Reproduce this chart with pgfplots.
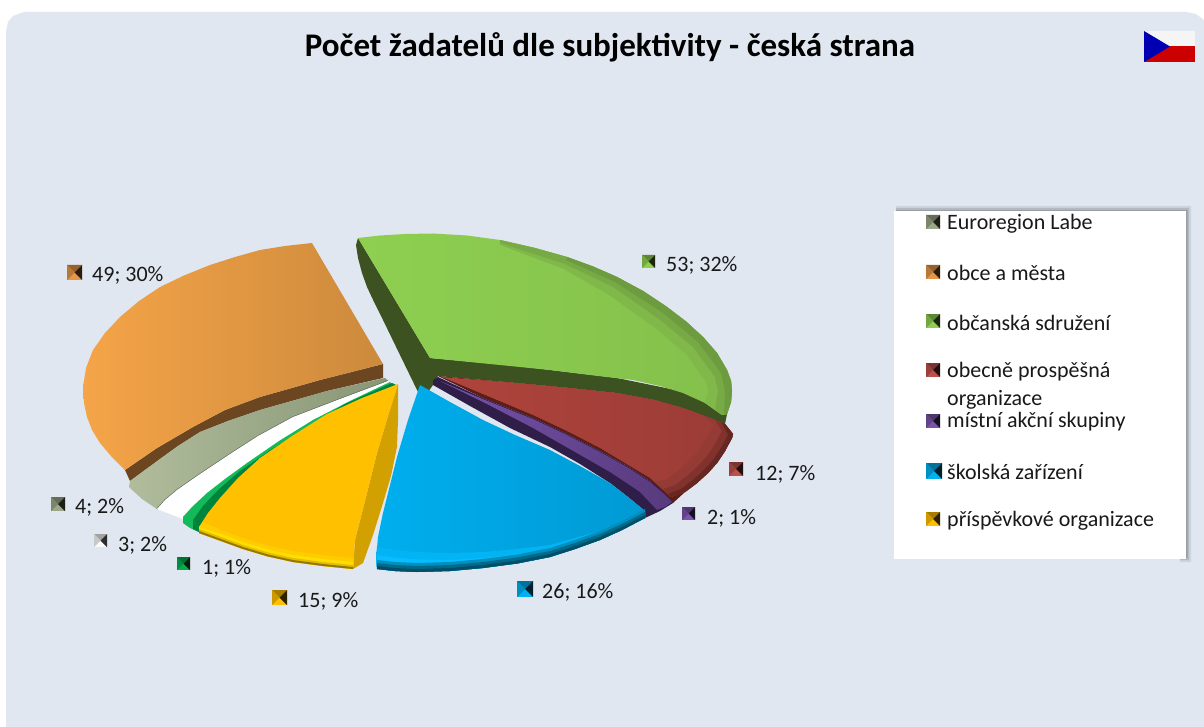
\documentclass[border=0pt]{standalone}
\usepackage{pgfplots}
\pgfplotsset{compat=1.18}
\usepackage{fontspec}
\setmainfont{Carlito}
\tikzset{lab/.style={anchor=west,inner sep=0pt,font=\fontsize{22}{26}\selectfont,text=black!90}}
\definecolor{bg}{HTML}{E0E7F0}
\definecolor{gside}{RGB}{61,82,33}
\definecolor{gtop}{RGB}{142,207,80}
\definecolor{gend}{RGB}{132,192,76}
\definecolor{oside}{RGB}{108,70,32}
\definecolor{olight}{RGB}{245,164,72}
\definecolor{omid}{RGB}{212,142,62}
\definecolor{odark}{RGB}{204,138,60}
\definecolor{slight}{RGB}{176,188,156}
\definecolor{sdark}{RGB}{136,150,118}
\definecolor{sline}{RGB}{90,100,85}
\definecolor{tgreen}{RGB}{18,186,90}
\definecolor{tdark}{RGB}{0,132,60}
\definecolor{yside}{RGB}{210,160,0}
\definecolor{ytop}{RGB}{255,192,0}
\definecolor{rside}{RGB}{92,28,24}
\definecolor{rtop}{RGB}{175,68,60}
\definecolor{rmid}{RGB}{170,66,58}
\definecolor{rdark}{RGB}{155,60,54}
\definecolor{pside}{RGB}{46,30,72}
\definecolor{plight}{RGB}{118,82,170}
\definecolor{pdark}{RGB}{88,58,125}
\definecolor{bmid}{RGB}{0,174,238}
\definecolor{bdark}{RGB}{0,154,212}
\definecolor{ksage}{RGB}{155,168,135}
\definecolor{kor}{RGB}{230,150,70}
\definecolor{kwh}{RGB}{250,250,250}
\definecolor{ktg}{RGB}{0,176,80}
\definecolor{kblue}{RGB}{0,176,240}
\definecolor{kpur}{RGB}{122,84,170}
\definecolor{kred}{RGB}{190,80,75}
\definecolor{gba}{RGB}{128,184,74}
\definecolor{gbb}{RGB}{119,170,69}
\definecolor{gbc}{RGB}{109,156,64}
\definecolor{yba}{RGB}{255,204,0}
\definecolor{ybb}{RGB}{255,222,0}
\definecolor{ybc}{RGB}{226,190,0}
\definecolor{ybd}{RGB}{150,118,0}
\definecolor{rba}{RGB}{149,59,53}
\definecolor{rbb}{RGB}{130,50,45}
\definecolor{rbc}{RGB}{102,38,34}
\definecolor{bba}{RGB}{3,180,244}
\definecolor{bbb}{RGB}{8,188,255}
\definecolor{bbc}{RGB}{0,144,190}
\definecolor{bbd}{RGB}{0,106,140}
\definecolor{bbe}{RGB}{0,78,104}
\newcommand\key[4]{% x y size colour
  \pgfmathsetmacro\kxa{#1}\pgfmathsetmacro\kya{#2}
  \pgfmathsetmacro\kxb{#1+#3}\pgfmathsetmacro\kyb{#2+#3}
  \pgfmathsetmacro\kxc{#1+0.5*#3}\pgfmathsetmacro\kyc{#2+0.5*#3}
  \addplot[draw=none,fill=#4] coordinates {(\kxa,\kya)(\kxb,\kya)(\kxb,\kyb)(\kxa,\kyb)};
  \addplot[draw=none,fill=#4!65!black] coordinates {(\kxa,\kya)(\kxb,\kya)(\kxc,\kyc)};
  \addplot[draw=none,fill=#4!80!black] coordinates {(\kxa,\kya)(\kxc,\kyc)(\kxa,\kyb)};
  \addplot[draw=none,fill=#4!18!black] coordinates {(\kxb,\kya)(\kxb,\kyb)(\kxc,\kyc)};
}
\begin{document}
\begin{tikzpicture}
\begin{axis}[scale only axis,width=1204pt,height=727pt,xmin=0,xmax=1204,ymin=0,ymax=727,y dir=reverse,hide axis]
% page and panel
\addplot[draw=none,fill=white] coordinates {(0,0)(1204,0)(1204,727)(0,727)};
\addplot[draw=none,fill=bg] coordinates {(6,727)(6,32)(8,22)(13,16)(24,12)(1186,12)(1196,14)(1204,20)(1204,727)};
% flag
\addplot[draw=none,fill=white!96!black] coordinates {(1144,31)(1195,31)(1195,47)(1144,47)};
\addplot[draw=none,fill=red!80!black] coordinates {(1144,46)(1195,46)(1195,62)(1144,62)};
\addplot[draw=none,fill=blue!70!black] coordinates {(1144,31)(1170,46.5)(1144,62)};
% green side
\addplot[draw=none,fill=gside] coordinates {
 (358,238)(356,245)(358,258)(362,273)(367,287)(375,304)(383,320)(400,355)(418,392)(428,392)(433,385)(438,376)(517,383)(570,388)(617,393)(655,400)(683,408)(705,416)(725,424)(727,414)(700,395)(617,378)(517,366)(430,358)};
% green top
\addplot[draw=none,shade,shading angle=75,left color=gtop,middle color=gtop,right color=gend] coordinates {
 (358,238)(380,235.5)(405,234)(433,233.5)(467,235.5)(500,240)(535,248)(567,257)(593,266.5)(617,277)(643,291)(667,307)(686,321.5)(703,337)(717,353)(727,370)(731,381)(732,391)(731,402)(727,414)(722,415)(705,403)(683,393)(660,386)(633,380)(590,375)(550,370)(430,358)};
% green bevel
\addplot[draw=none,fill=gba] coordinates {
 (500,240)(535,248)(567,257)(593,266.5)(617,277)(643,291)(667,307)(686,321.5)(703,337)(717,353)(727,370)(731,381)(732,391)(731,402)(727,414)(722,415)(705,403)(708,391)(706,382)(686,354)(654,327)(609,295)(564,269)(500,245)};
\addplot[draw=none,fill=gbb] coordinates {
 (500,240)(535,248)(567,257)(593,266.5)(617,277)(643,291)(667,307)(686,321.5)(703,337)(717,353)(727,370)(731,381)(732,391)(731,402)(727,414)(722,415)(715,409)(718,391)(715,377)(693,347)(659,319)(613,287)(565,264)(500,243)};
\addplot[draw=none,fill=gbc] coordinates {
 (567,257)(593,266.5)(617,277)(643,291)(667,307)(686,321.5)(703,337)(717,353)(727,370)(731,381)(732,391)(731,402)(727,414)(724,414)(725,391)(721,373)(698,342)(663,313)(615,282)(566,260)};
% orange side
\addplot[draw=none,fill=oside] coordinates {
 (125,470)(157,448)(193,427)(225,410)(260,397)(320,380)(383,364)(383,378)(327,391)(260,410)(228,421)(200,432)(178,446)(160,459)(145,470)(130,481)};
% orange top
\addplot[draw=none,shade,shading angle=65,left color=olight,middle color=omid,right color=odark] coordinates {
 (312,243)(285,246)(260,250)(235,257)(210,265)(184,275.5)(160,287)(139,301)(120,317)(105,333)(93,350)(86,368)(83,387)(84,403)(87,417)(92,430)(100,443)(111,456)(125,470)(157,448)(193,427)(225,410)(260,397)(320,380)(383,364)};
% sage
\addplot[draw=none,shade,shading angle=65,left color=slight,right color=sdark] coordinates {
 (129,487)(130,481)(145,470)(160,459)(178,446)(200,432)(228,421)(260,410)(327,391)(385,378)(388,381)(340,399)(293,417)(258,436)(227,456)(200,474)(177,490)(165,500)(157,509)(142,499)};
\addplot[draw=sline,line width=1.2pt] coordinates {(157,509)(165,500)(177,490)(200,474)(227,456)(258,436)(293,417)(340,399)(388,381)};
% white
\addplot[draw=none,fill=white] coordinates {
 (157,509)(165,500)(177,490)(200,474)(227,456)(258,436)(293,417)(340,399)(388,381)(391,383)(300,440)(183,519)(170,514)};
% thin green
\addplot[draw=none,fill=tgreen] coordinates {
 (183,517)(192,507)(207,493)(225,479)(247,463)(279,441)(313,420)(350,401)(390,382)(392,384.5)(300,440)(220,510)(199,532)(190,528)(183,523)};
\addplot[draw=none,fill=tdark] coordinates {
 (392,383)(345,404)(305,428)(272,449)(240,471)(218,490)(203,506)(193,520)(193,529)(199,532)(220,510)(300,440)(398,386)};
% yellow side
\addplot[draw=none,fill=yside] coordinates {
 (398,384)(398,420)(397,447)(391,476)(383,503)(373,535)(363,563)(353,569)(355,540)(366,497)(377,453)(388,416)};
% yellow
\addplot[draw=none,fill=ytop] coordinates {
 (398,384)(362,398)(327,414)(292,436)(260,458)(238,478)(220,498)(208,513)(199,527)(199,533)(221,541)(243,549)(268,556.5)(293,562)(323,566)(353,569)(355,540)(366,497)(377,453)(388,416)};
\addplot[draw=none,fill=yba] coordinates {(203,522)(221,530)(243,538)(268,545.5)(293,551)(323,555)(353,558)(353,569)(323,566)(293,562)(268,556.5)(243,549)(221,541)(199,533)(199,527)};
\addplot[draw=none,fill=ybb] coordinates {(199,527)(221,534)(243,542)(268,549.5)(293,555)(323,559)(353,562)(353,569)(323,566)(293,562)(268,556.5)(243,549)(221,541)(199,533)};
\addplot[draw=none,fill=ybc] coordinates {(199,529)(221,537)(243,545)(268,552.5)(293,558)(323,562)(353,565)(353,569)(323,566)(293,562)(268,556.5)(243,549)(221,541)(199,533)};
\addplot[draw=none,fill=ybd] coordinates {(199,531)(221,539)(243,547)(268,554.5)(293,560)(323,564)(353,567)(353,569)(323,566)(293,562)(268,556.5)(243,549)(221,541)(199,533)};
% red
\addplot[draw=none,fill=rside] coordinates {
 (438,376)(517,383)(570,388)(617,393)(655,400)(683,408)(705,416)(725,424)(733,434)(732,438)(725,451)(717,463)(708,473)(697,483)(685,492)(673,503)(650,481)(627,466)(600,451)(567,434)(533,418)(485,399)};
\addplot[draw=none,shade,shading angle=80,left color=rtop,middle color=rmid,right color=rdark] coordinates {
 (442,377)(480,380)(517,383)(570,388)(617,393)(655,400)(683,408)(705,416)(725,424)(733,434)(732,438)(725,451)(717,463)(708,473)(697,483)(685,492)(671,497)(650,478)(625,463)(600,448)(567,431)(533,415)(490,397)};
\addplot[draw=none,fill=rba] coordinates {(700,414)(725,424)(733,434)(732,438)(725,451)(717,463)(708,473)(697,483)(685,492)(671,497)(655,482)(667,479)(679,470)(690,460)(699,450)(707,438)(714,425)};
\addplot[draw=none,fill=rbb] coordinates {(715,420)(725,424)(733,434)(732,438)(725,451)(717,463)(708,473)(697,483)(685,492)(671,497)(663,489)(675,485)(687,476)(698,466)(707,456)(715,444)(722,431)};
\addplot[draw=none,fill=rbc] coordinates {(722,423)(725,424)(733,434)(732,438)(725,451)(717,463)(708,473)(697,483)(685,492)(671,497)(668,494)(681,489)(693,480)(704,470)(713,460)(721,448)(728,435)};
% purple
\addplot[draw=none,fill=pside] coordinates {
 (433,380)(438,377)(485,399)(533,418)(567,434)(600,451)(627,466)(650,481)(663,492)(673,503)(660,511)(645,518)(645,511)(628,497)(610,483)(580,464)(550,447)(510,428)(470,406)(433,385)};
\addplot[draw=none,shade,shading angle=60,left color=plight,right color=pdark] coordinates {
 (440,381)(485,400)(533,419)(567,435)(600,452)(627,467)(650,482)(663,493)(672,502)(665,507)(657,510)(640,492)(610,472)(575,452)(533,428)(485,403)};
% blue
\addplot[draw=none,shade,shading angle=75,left color=bmid,middle color=bmid,right color=bdark] coordinates {
 (420,385)(450,402)(483,420)(515,435)(550,450)(580,466)(610,483)(628,497)(645,511)(645,518)(622,530)(600,540)(575,549)(550,557)(517,563.5)(483,568)(450,571)(417,572)(395,571)(377,569)(376,560)(378,537)(383,513)(390,485)(397,457)(408,420)};
\addplot[draw=none,fill=bba] coordinates {(645,511.4)(622,522)(600,531)(575,538)(550,545)(517,549)(483,552)(450,553)(417,552)(395,550)(377,547)(376,560)(377,569)(395,571)(417,572)(450,571)(483,568)(517,563.5)(550,557)(575,549)(600,540)(622,530)(645,518)};
\addplot[draw=none,fill=bbb] coordinates {(645,513.8)(622,525)(600,534)(575,542)(550,549)(517,554)(483,558)(450,560)(417,559.4)(395,557.5)(377,555)(377,569)(395,571)(417,572)(450,571)(483,568)(517,563.5)(550,557)(575,549)(600,540)(622,530)(645,518)};
\addplot[draw=none,fill=bbc] coordinates {(645,509)(622,521)(600,531)(575,540)(550,548)(517,554.5)(483,559)(450,562)(417,563)(395,562)(377,560)(377,569)(395,571)(417,572)(450,571)(483,568)(517,563.5)(550,557)(575,549)(600,540)(622,530)(645,518)};
\addplot[draw=none,fill=bbd] coordinates {(645,512)(622,524)(600,534)(575,543)(550,551)(517,557.5)(483,562)(450,565)(417,566)(395,565)(377,563)(377,569)(395,571)(417,572)(450,571)(483,568)(517,563.5)(550,557)(575,549)(600,540)(622,530)(645,518)};
\addplot[draw=none,fill=bbe] coordinates {(645,515)(622,527)(600,537)(575,546)(550,554)(517,560.5)(483,565)(450,568)(417,569)(395,568)(377,566)(377,569)(395,571)(417,572)(450,571)(483,568)(517,563.5)(550,557)(575,549)(600,540)(622,530)(645,518)};
% legend box
\addplot[draw=none,fill=black,opacity=.08] coordinates {(896,206)(1191,206)(1191,562)(1180,562)(1180,215)(896,215)};
\addplot[draw=none,fill=black,opacity=.12] coordinates {(896,208)(1189,208)(1189,560)(1180,560)(1180,215)(896,215)};
\addplot[draw=none,fill=black,opacity=.14] coordinates {(896,210)(1187.5,210)(1187.5,558)(1180,558)(1180,215)(896,215)};
\addplot[draw=none,fill=white] coordinates {(894,211)(1186,211)(1186,559)(894,559)};
% data-label keys
\key{51}{497}{14}{ksage}
\key{67}{265}{15}{kor}
\key{94}{534}{13}{kwh}
\key{177}{557}{13}{ktg}
\key{272}{590}{15}{ytop}
\key{517}{581}{16}{kblue}
\key{682}{507}{13}{kpur}
\key{729}{462}{14}{kred}
\key{642}{255}{13}{gtop}
% legend keys
\key{926}{215}{14}{ksage}
\key{926}{265}{14}{kor}
\key{926}{314}{14}{gtop}
\key{926}{363}{14}{kred}
\key{926}{414}{14}{kpur}
\key{926}{463}{16}{kblue}
\key{926}{512}{14}{ytop}
% texts
\node[anchor=center,font=\fontsize{33}{38}\selectfont\bfseries] at (axis cs:610,47) {Počet žadatelů dle subjektivity - česká strana};
\node[lab] at (axis cs:666,265) {53; 32\%};
\node[lab] at (axis cs:755,474) {12; 7\%};
\node[lab] at (axis cs:707,518) {2; 1\%};
\node[lab] at (axis cs:542,592) {26; 16\%};
\node[lab] at (axis cs:298,601) {15; 9\%};
\node[lab] at (axis cs:202,568) {1; 1\%};
\node[lab] at (axis cs:118,545) {3; 2\%};
\node[lab] at (axis cs:75,507) {4; 2\%};
\node[lab] at (axis cs:92,275) {49; 30\%};
\node[lab] at (axis cs:947,224) {Euroregion Labe};
\node[lab] at (axis cs:947,273) {obce a města};
\node[lab] at (axis cs:947,323) {občanská sdružení};
\node[lab] at (axis cs:947,372) {obecně prospěšná};
\node[lab] at (axis cs:947,400) {organizace};
\node[lab] at (axis cs:947,422) {místní akční skupiny};
\node[lab] at (axis cs:947,472) {školská zařízení};
\node[lab] at (axis cs:947,521) {příspěvkové organizace};
\end{axis}
\end{tikzpicture}
\end{document}
